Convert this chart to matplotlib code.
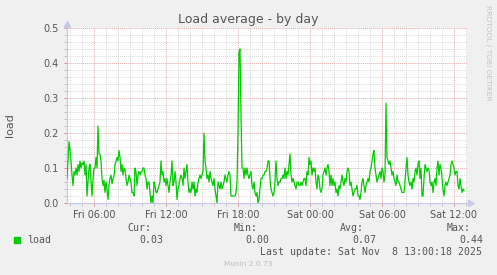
import matplotlib
matplotlib.use("Agg")
import matplotlib.pyplot as plt
import matplotlib.dates as mdates
import numpy as np
import pandas as pd

# munin "load" plugin, 5 minute samples
START = "2025-11-07 03:45"
STEP = "5min"
load = [
    0.07, 0.12, 0.175, 0.15, 0.12, 0.08, 0.05, 0.09, 0.08, 0.10,
    0.08, 0.11, 0.09, 0.12, 0.10, 0.115, 0.11, 0.12, 0.08, 0.11,
    0.02, 0.06, 0.10, 0.11, 0.06, 0.02, 0.07, 0.10, 0.10, 0.13,
    0.10, 0.22, 0.14, 0.14, 0.12, 0.07, 0.05, 0.065, 0.03, 0.06,
    0.04, 0.01, 0.05, 0.07, 0.08, 0.055, 0.07, 0.075, 0.11, 0.12,
    0.13, 0.12, 0.15, 0.13, 0.09, 0.11, 0.08, 0.10, 0.095, 0.07,
    0.05, 0.06, 0.08, 0.07, 0.06, 0.03, 0.03, 0.02, 0.10, 0.09,
    0.05, 0.08, 0.09, 0.08, 0.09, 0.09, 0.10, 0.10, 0.08, 0.07,
    0.04, 0.06, 0.06, 0.03, 0.00, 0.02, 0.00, 0.06, 0.05, 0.03,
    0.03, 0.04, 0.05, 0.06, 0.12, 0.08, 0.09, 0.06, 0.07, 0.05,
    0.07, 0.05, 0.03, 0.06, 0.08, 0.12, 0.05, 0.06, 0.09, 0.06,
    0.01, 0.04, 0.05, 0.07, 0.08, 0.07, 0.05, 0.10, 0.07, 0.09,
    0.11, 0.06, 0.03, 0.04, 0.03, 0.06, 0.04, 0.06, 0.02, 0.04,
    0.03, 0.06, 0.07, 0.08, 0.07, 0.08, 0.09, 0.20, 0.12, 0.10,
    0.07, 0.08, 0.06, 0.09, 0.07, 0.06, 0.05, 0.07, 0.04, 0.02,
    0.00, 0.06, 0.05, 0.04, 0.06, 0.04, 0.05, 0.06, 0.08, 0.07,
    0.06, 0.08, 0.09, 0.08, 0.02, 0.02, 0.02, 0.02, 0.02, 0.03,
    0.06, 0.20, 0.43, 0.44, 0.25, 0.10, 0.10, 0.07, 0.10, 0.08,
    0.10, 0.08, 0.07, 0.08, 0.09, 0.05, 0.04, 0.06, 0.03, 0.02,
    0.03, 0.00, 0.01, 0.04, 0.07, 0.07, 0.08, 0.08, 0.09, 0.09,
    0.10, 0.12, 0.12, 0.07, 0.04, 0.03, 0.02, 0.03, 0.06, 0.12,
    0.07, 0.05, 0.06, 0.06, 0.07, 0.07, 0.08, 0.07, 0.10, 0.07,
    0.09, 0.08, 0.11, 0.14, 0.08, 0.06, 0.07, 0.06, 0.05, 0.04,
    0.06, 0.06, 0.05, 0.05, 0.06, 0.05, 0.06, 0.07, 0.07, 0.05,
    0.09, 0.08, 0.13, 0.11, 0.12, 0.08, 0.10, 0.09, 0.10, 0.06,
    0.04, 0.08, 0.07, 0.04, 0.03, 0.04, 0.08, 0.09, 0.10, 0.08,
    0.10, 0.11, 0.09, 0.05, 0.08, 0.05, 0.07, 0.05, 0.06, 0.03,
    0.04, 0.02, 0.05, 0.04, 0.06, 0.08, 0.06, 0.05, 0.07, 0.06,
    0.09, 0.10, 0.09, 0.05, 0.06, 0.04, 0.02, 0.03, 0.04, 0.04,
    0.05, 0.02, 0.02, 0.01, 0.03, 0.06, 0.07, 0.05, 0.03, 0.05,
    0.06, 0.07, 0.06, 0.09, 0.10, 0.12, 0.14, 0.15, 0.10, 0.08,
    0.06, 0.07, 0.08, 0.09, 0.07, 0.10, 0.09, 0.06, 0.08, 0.285,
    0.13, 0.12, 0.11, 0.12, 0.10, 0.08, 0.09, 0.07, 0.06, 0.05,
    0.08, 0.06, 0.06, 0.05, 0.04, 0.03, 0.03, 0.03, 0.06, 0.10,
    0.13, 0.08, 0.06, 0.05, 0.06, 0.04, 0.07, 0.06, 0.09, 0.10,
    0.08, 0.11, 0.12, 0.07, 0.10, 0.02, 0.02, 0.07, 0.11, 0.10,
    0.09, 0.10, 0.095, 0.06, 0.05, 0.06, 0.03, 0.06, 0.07, 0.05,
    0.10, 0.12, 0.08, 0.11, 0.10, 0.07, 0.04, 0.02, 0.05, 0.06,
    0.05, 0.06, 0.07, 0.08, 0.11, 0.12, 0.11, 0.10, 0.08, 0.09,
    0.09, 0.05, 0.04, 0.07, 0.05, 0.03, 0.04, 0.035,
]
stat_names = ["Cur:", "Min:", "Avg:", "Max:"]
stat_values = ["0.03", "0.00", "0.07", "0.44"]
last_update = "Last update: Sat Nov  8 13:00:18 2025"

TXT = "#555555"
AXC = "#C8C8EC"
W, H = 497, 275

times = pd.date_range(START, periods=len(load), freq=STEP)

fig = plt.figure(figsize=(W / 100, H / 100), dpi=100, facecolor="#F0F0F0")
L, R, T, B = 67, 467, 28, 203
ax = fig.add_axes([L / W, 1 - B / H, (R - L) / W, (B - T) / H])
ax.set_facecolor("white")

ax.plot(times, load, color="#00CC00", lw=0.9, zorder=3)

ax.set_xlim(pd.Timestamp("2025-11-07 03:45"), pd.Timestamp("2025-11-08 13:05"))
ax.set_ylim(0, 0.5)
ax.xaxis.set_major_locator(mdates.HourLocator(byhour=[0, 6, 12, 18]))
ax.xaxis.set_minor_locator(mdates.HourLocator())
ax.xaxis.set_major_formatter(mdates.DateFormatter("%a %H:%M"))
ax.set_yticks(np.arange(0, 0.51, 0.1))
ax.set_yticks(np.arange(0, 0.51, 0.02), minor=True)
ax.yaxis.set_major_formatter(matplotlib.ticker.FormatStrFormatter("%.1f"))

dots = (0, (1, 1))
ax.grid(which="minor", color="#DADADA", ls=dots, lw=0.7)
ax.grid(which="major", color="#E6A8A8", ls=dots, lw=0.7)
ax.set_axisbelow(True)

ax.tick_params(which="major", colors="#E08888", labelcolor=TXT, length=2, width=0.7, labelsize=7)
ax.tick_params(which="minor", colors="#BBBBBB", length=2, width=0.6)
ax.tick_params(axis="x", which="major", pad=3)
ax.tick_params(axis="y", which="major", pad=4)

for s in ax.spines.values():
    s.set_visible(False)
# axes with arrow heads like rrdtool
ax.plot([0, 0], [0, 1.012], color=AXC, lw=0.9, transform=ax.transAxes, clip_on=False)
ax.plot([0, 1.003], [0, 0], color=AXC, lw=0.9, transform=ax.transAxes, clip_on=False)
ax.plot([0], [1.022], marker="^", ms=4, color=AXC, transform=ax.transAxes, clip_on=False)
ax.plot([1.01], [0], marker=">", ms=4, color=AXC, transform=ax.transAxes, clip_on=False)

fig.text(248 / W, 1 - 19 / H, "Load average - by day", ha="center", va="center",
         fontsize=9, color=TXT)
fig.text(10 / W, 1 - 125 / H, "load", rotation=90, ha="center", va="center",
         fontsize=8, color=TXT)
fig.text(488 / W, 1 - 5 / H, "RRDTOOL / TOBI OETIKER", rotation=270, ha="center",
         va="top", fontsize=5.4, color="#C4C4C4")

mono = dict(family="DejaVu Sans Mono", fontsize=7.1, color=TXT, va="center")
fig.patches.append(plt.Rectangle((14 / W, 1 - 242.5 / H), 6 / W, 6 / H,
                                 transform=fig.transFigure, color="#00CC00"))
fig.text(26.7 / W, 1 - 239.7 / H, "load", **mono)
name_x = [127.3, 234, 340, 446.7]
val_x = [139, 245.7, 352.3, 459]
for nx, vx, n, v in zip(name_x, val_x, stat_names, stat_values):
    fig.text(nx / W, 1 - 227.7 / H, n, **mono)
    fig.text(vx / W, 1 - 239.7 / H, v, **mono)
fig.text(482.3 / W, 1 - 251.7 / H, last_update, ha="right", **mono)
fig.text(248 / W, 1 - 263.7 / H, "Munin 2.0.73", ha="center", va="center",
         fontsize=5.3, color="#BDBDBD")

fig.savefig("out.png", dpi=100, facecolor=fig.get_facecolor())
